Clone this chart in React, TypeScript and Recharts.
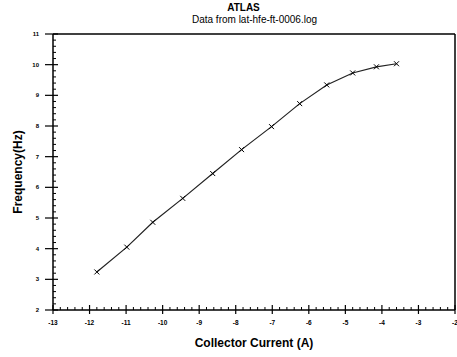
import React from "react";
import { LineChart, Line, XAxis, YAxis, ReferenceLine, Label } from "recharts";

// log10 of collector current (A) and measured fT (log10 Hz)
const current = [-11.8, -10.98, -10.27, -9.45, -8.63, -7.84, -7.02, -6.25, -5.51, -4.8, -4.15, -3.6];
const frequency = [3.24, 4.05, 4.86, 5.64, 6.45, 7.23, 7.98, 8.73, 9.34, 9.73, 9.93, 10.03];

const xTicks = [-13, -12, -11, -10, -9, -8, -7, -6, -5, -4, -3, -2];
const yTicks = [2, 3, 4, 5, 6, 7, 8, 9, 10, 11];
const minorSteps = [0.2, 0.4, 0.6, 0.8];

const data = current.map((c, i) => ({ c, f: frequency[i] }));

const xAll = xTicks.flatMap((t, i) => (i < xTicks.length - 1 ? [t, ...minorSteps.map((s) => t + s)] : [t]));
const yAll = yTicks.flatMap((t, i) => (i < yTicks.length - 1 ? [t, ...minorSteps.map((s) => t + s)] : [t]));

const isMajor = (v: number) => Math.abs(v - Math.round(v)) < 1e-6;

const YTick = (props: any) => {
  const { x, y, payload } = props;
  const major = isMajor(payload.value);
  return (
    <g>
      {major ? (
        <>
          <line x1={x - 8} y1={y} x2={x + 5} y2={y} stroke="#000" strokeWidth={1.2} />
          <text x={x - 14} y={y + 2} textAnchor="end" fontSize={6} fontWeight={700} fill="#000">
            {payload.value}
          </text>
        </>
      ) : (
        <line x1={x} y1={y} x2={x + 3} y2={y} stroke="#000" strokeWidth={1} />
      )}
    </g>
  );
};

const XTick = (props: any) => {
  const { x, y, payload } = props;
  const major = isMajor(payload.value);
  return (
    <g>
      {major ? (
        <>
          <line x1={x} y1={y - 5} x2={x} y2={y + 4} stroke="#000" strokeWidth={1.2} />
          <text x={x} y={y + 15} textAnchor="middle" fontSize={6.5} fontWeight={700} fill="#000">
            {payload.value}
          </text>
        </>
      ) : (
        <line x1={x} y1={y} x2={x} y2={y - 3} stroke="#000" strokeWidth={1} />
      )}
    </g>
  );
};

const Cross = (props: any) => {
  const { cx, cy } = props;
  const s = 2.5;
  return (
    <g>
      <line x1={cx - s} y1={cy - s} x2={cx + s} y2={cy + s} stroke="#000" strokeWidth={1} />
      <line x1={cx - s} y1={cy + s} x2={cx + s} y2={cy - s} stroke="#000" strokeWidth={1} />
    </g>
  );
};

export default function App() {
  return (
    <div style={{ position: "fixed", left: 0, top: 0, width: 457, height: 357, background: "#fff", fontFamily: "'Liberation Sans', Arial, sans-serif" }}>
      <div style={{ position: "absolute", top: 2, left: 0, width: 457, textAlign: "center", paddingLeft: 30, boxSizing: "border-box", fontSize: 10, fontWeight: 700, lineHeight: "12px" }}>
        ATLAS
      </div>
      <div style={{ position: "absolute", top: 14, left: 0, width: 457, textAlign: "center", paddingLeft: 52, boxSizing: "border-box", fontSize: 10, lineHeight: "12px" }}>
        Data from lat-hfe-ft-0006.log
      </div>
      <LineChart width={457} height={357} data={data} margin={{ top: 34, right: 2, left: 30, bottom: 27 }}>
        <XAxis
          type="number"
          dataKey="c"
          domain={[-13, -2]}
          ticks={xAll}
          interval={0}
          tick={<XTick />}
          tickLine={false}
          tickSize={0}
          tickMargin={0}
          height={20}
          axisLine={{ stroke: "#000", strokeWidth: 1.5 }}
        >
          <Label value="Collector Current (A)" position="bottom" offset={8} style={{ fontSize: 12, fontWeight: 700, fill: "#000" }} />
        </XAxis>
        <YAxis
          type="number"
          dataKey="f"
          domain={[2, 11]}
          ticks={yAll}
          interval={0}
          tick={<YTick />}
          tickLine={false}
          tickSize={0}
          tickMargin={0}
          width={23}
          axisLine={{ stroke: "#000", strokeWidth: 1.5 }}
        >
          <Label value="Frequency(Hz)" angle={-90} position="left" offset={12} style={{ fontSize: 12, fontWeight: 700, fill: "#000", textAnchor: "middle" }} />
        </YAxis>
        <ReferenceLine y={11} stroke="#000" strokeWidth={1.5} />
        <ReferenceLine x={-2} stroke="#000" strokeWidth={1.5} />
        <Line
          type="linear"
          dataKey="f"
          stroke="#222"
          strokeWidth={1.2}
          dot={<Cross />}
          activeDot={false}
          isAnimationActive={false}
        />
      </LineChart>
    </div>
  );
}
